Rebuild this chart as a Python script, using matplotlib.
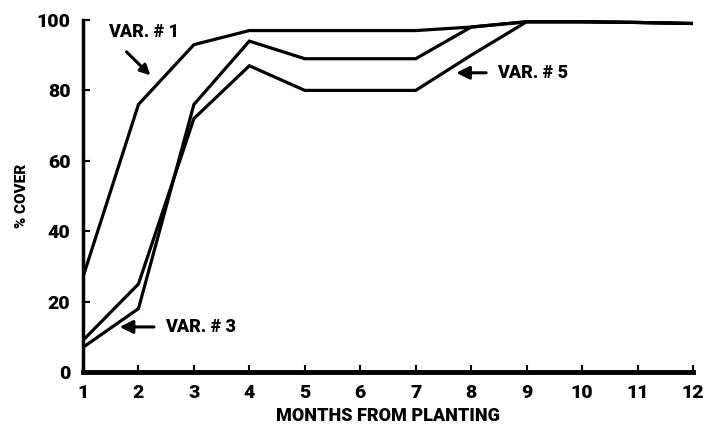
import matplotlib
matplotlib.use("Agg")
import matplotlib.pyplot as plt

months = [1, 2, 3, 4, 5, 6, 7, 8, 9, 10, 11, 12]
var1 = [27, 76, 93, 97, 97, 97, 97, 98, 99.5, 99.5, 99.3, 99]
var3 = [7, 18, 76, 94, 89, 89, 89, 98, 99.5, 99.5, 99.3, 99]
var5 = [9, 25, 72, 87, 80, 80, 80, 90, 99.5, 99.5, 99.3, 99]
yticks = [0, 20, 40, 60, 80, 100]
xlabel = "MONTHS FROM PLANTING"
ylabel = "% COVER"

FAM = ["Roboto", "DejaVu Sans"]
W = "black"
fp = dict(family=FAM, weight=W)

fig = plt.figure(figsize=(7.13, 4.24), dpi=100)
ax = fig.add_axes([83/713, 52/424, 610/713, 352/424])

for s in (var1, var3, var5):
    ax.plot(months, s, color="black", lw=2.3, solid_joinstyle="miter")

ax.set_xlim(1, 12)
ax.set_ylim(0, 100)
ax.set_xticks(months)
ax.set_yticks(yticks)
for sp in ("top", "right"):
    ax.spines[sp].set_visible(False)
ax.spines["left"].set_linewidth(2.5)
ax.spines["bottom"].set_linewidth(3.5)
ax.tick_params(direction="in", length=5, width=1.5)
ax.tick_params(axis="x", pad=9)
ax.tick_params(axis="y", pad=9)
for lab in ax.get_xticklabels() + ax.get_yticklabels():
    lab.set_fontfamily(FAM)
    lab.set_fontweight(W)
    lab.set_fontsize(14)

ax.set_xlabel(xlabel, fontsize=13, **fp)
ax.xaxis.set_label_coords(0.5, -0.1)
ax.set_ylabel(ylabel, fontsize=11, **fp)
ax.yaxis.set_label_coords(-0.088, 0.5)

ax.annotate("VAR. # 1", xy=(2.25, 84), xytext=(1.45, 96.5), fontsize=13,
            va="center", ha="left", **fp)
ax.annotate("", xy=(2.25, 83.7), xytext=(1.75, 91.5),
            arrowprops=dict(arrowstyle="-|>,head_length=0.6,head_width=0.3",
                            color="black", lw=2.2))
ax.annotate("VAR. # 3", xy=(1.66, 12.8), xytext=(2.48, 12.8), fontsize=13,
            va="center", ha="left", **fp,
            arrowprops=dict(arrowstyle="-|>,head_length=0.6,head_width=0.3",
                            color="black", lw=2.2, shrinkA=6, shrinkB=0))
ax.annotate("VAR. # 5", xy=(7.73, 85), xytext=(8.47, 85), fontsize=13,
            va="center", ha="left", **fp,
            arrowprops=dict(arrowstyle="-|>,head_length=0.6,head_width=0.3",
                            color="black", lw=2.2, shrinkA=6, shrinkB=0))

fig.savefig("out.png", dpi=100)
